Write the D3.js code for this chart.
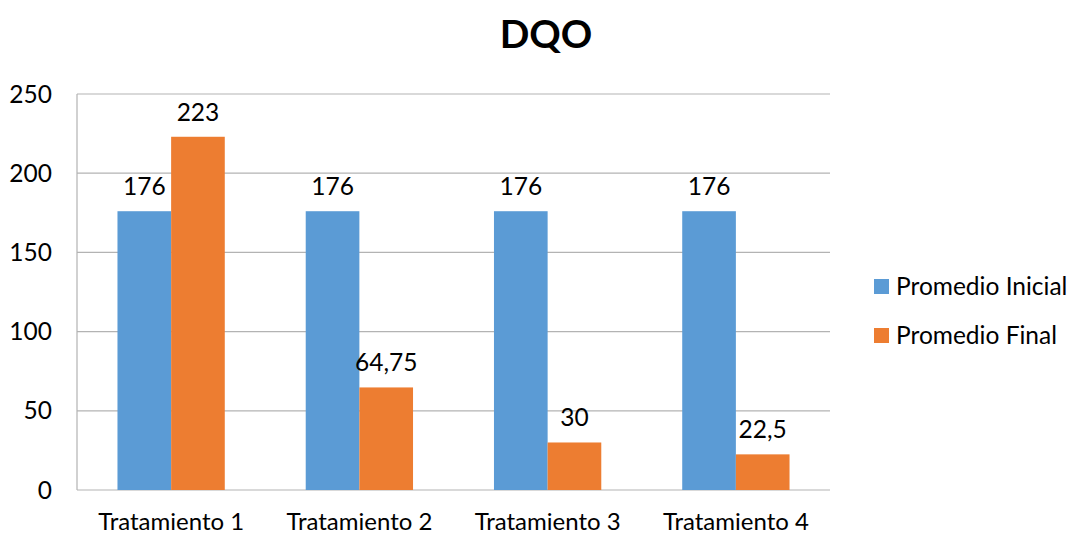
<!DOCTYPE html>
<html>
<head>
<meta charset="utf-8">
<script src="https://cdn.jsdelivr.net/npm/d3@7"></script>
<style>
  body { margin: 0; background: #fff; }
  svg text { font-family: Lato, "Open Sans", sans-serif; fill: #000; }
</style>
</head>
<body>
<svg id="chart" width="1073" height="536"></svg>
<script>
// DQO per treatment: initial vs final average
const categories = ["Tratamiento 1", "Tratamiento 2", "Tratamiento 3", "Tratamiento 4"];
const seriesNames = ["Promedio Inicial", "Promedio Final"];
const promedioInicial = [176, 176, 176, 176];
const promedioFinal = [223, 64.75, 30, 22.5];
const yTicks = [0, 50, 100, 150, 200, 250];
const colors = ["#5b9bd5", "#ed7d31"];

const svg = d3.select("#chart");
const margin = { left: 77, right: 243, top: 94, bottom: 46 };
const W = 1073, H = 536;
const plotW = W - margin.left - margin.right;
const plotH = H - margin.top - margin.bottom;
const fs = 24.5;

const g = svg.append("g").attr("transform", `translate(${margin.left},${margin.top})`);

const x0 = d3.scaleBand().domain(categories).range([0, plotW]).paddingInner(0.43).paddingOuter(0.215);
const x1 = d3.scaleBand().domain(seriesNames).range([0, x0.bandwidth()]);
const y = d3.scaleLinear().domain([0, 250]).range([plotH, 0]);

// gridlines
g.selectAll(".grid").data(yTicks).join("line")
  .attr("x1", 0).attr("x2", plotW)
  .attr("y1", d => y(d)).attr("y2", d => y(d))
  .attr("stroke", "#b3b3b3").attr("stroke-width", 1.2);

// left axis line
g.append("line").attr("x1", 0).attr("x2", 0).attr("y1", 0).attr("y2", plotH)
  .attr("stroke", "#b3b3b3").attr("stroke-width", 1.2);

// y tick labels
g.selectAll(".ylab").data(yTicks).join("text")
  .attr("x", -25).attr("y", d => y(d)).attr("dy", "0.35em")
  .attr("text-anchor", "end").attr("font-size", fs)
  .text(d => d);

const rows = categories.map((c, i) => ({ cat: c, vals: [promedioInicial[i], promedioFinal[i]] }));
const fmt = v => String(v).replace(".", ",");

const groups = g.selectAll(".cat").data(rows).join("g")
  .attr("transform", d => `translate(${x0(d.cat)},0)`);

groups.selectAll("rect").data(d => d.vals.map((v, j) => ({ v, s: seriesNames[j], j }))).join("rect")
  .attr("x", d => x1(d.s)).attr("width", x1.bandwidth())
  .attr("y", d => y(d.v)).attr("height", d => plotH - y(d.v))
  .attr("fill", d => colors[d.j]);

groups.selectAll(".val").data(d => d.vals.map((v, j) => ({ v, s: seriesNames[j], j }))).join("text")
  .attr("x", d => x1(d.s) + x1.bandwidth() / 2)
  .attr("y", d => y(d.v) - 16)
  .attr("text-anchor", "middle").attr("font-size", fs)
  .text(d => fmt(d.v));

// x labels
g.selectAll(".xlab").data(categories).join("text")
  .attr("x", d => x0(d) + x0.bandwidth() / 2)
  .attr("y", plotH + 40)
  .attr("text-anchor", "middle").attr("font-size", 24)
  .text(d => d);

// title
svg.append("text").attr("x", 546).attr("y", 48).attr("text-anchor", "middle")
  .attr("font-size", 39).attr("font-weight", "bold").text("DQO");

// legend
const legend = svg.append("g").attr("transform", "translate(874,279)");
const li = legend.selectAll("g").data(seriesNames).join("g")
  .attr("transform", (d, i) => `translate(0,${i * 49})`);
li.append("rect").attr("width", 15).attr("height", 15).attr("fill", (d, i) => colors[i]);
li.append("text").attr("x", 22).attr("y", 7.5).attr("dy", "0.35em")
  .attr("font-size", fs).text(d => d);
</script>
</body>
</html>
